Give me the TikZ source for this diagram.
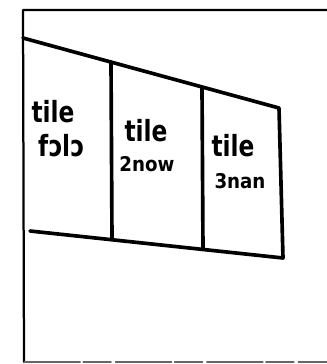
\documentclass[tikz,border=0pt]{standalone}
\usepackage{graphicx}
\usepackage{fontspec}
\setmainfont{DejaVu Sans}
\begin{document}
\begin{tikzpicture}[x=0.025cm,y=-0.025cm,line cap=round,line join=round,
	ink/.style={line width=2.6pt,black},
	thinink/.style={line width=1.6pt,black},
	tilelabel/.style={font=\huge\bfseries,inner sep=0pt,xscale=0.8,transform shape},
	numlabel/.style={font=\Large\bfseries,inner sep=0pt,xscale=0.9,transform shape}]
	\useasboundingbox (0,0) rectangle (327,364);
	% outer frame
	\coordinate (frameTL) at (23,10);
	\coordinate (frameTR) at (327,10);
	\coordinate (frameBL) at (24,362);
	\coordinate (frameBR) at (327,362);
	\draw[thinink] (frameTR)--(frameTL)--(frameBL);
	\draw[line width=0.8pt,black!60,dash pattern=on 40pt off 2pt on 20pt off 3pt] (frameBL)--(frameBR);
	% strip of tiles
	\coordinate (topL) at (23,38);
	\coordinate (topA) at (111,62);
	\coordinate (topB) at (202,87);
	\coordinate (topR) at (279,108);
	\coordinate (botL) at (30,231);
	\coordinate (botA) at (112,239);
	\coordinate (botB) at (203,249);
	\coordinate (botR) at (283,258);
	\draw[ink] (topL)--(topR)--(botR)--(botL);
	\draw[ink] (topA)--(botA);
	\draw[ink] (topB)--(botB);
	% labels
	\node[tilelabel] (tileA) at (53,112) {tile};
	\node[tilelabel] (nameA) at (61,146) {f\reflectbox{c}l\reflectbox{c}};
	\node[tilelabel] (tileB) at (146,131) {tile};
	\node[numlabel] (nameB) at (147,164) {2now};
	\node[tilelabel] (tileC) at (233,146) {tile};
	\node[numlabel] (nameC) at (240,181) {3nan};
\end{tikzpicture}
\end{document}
